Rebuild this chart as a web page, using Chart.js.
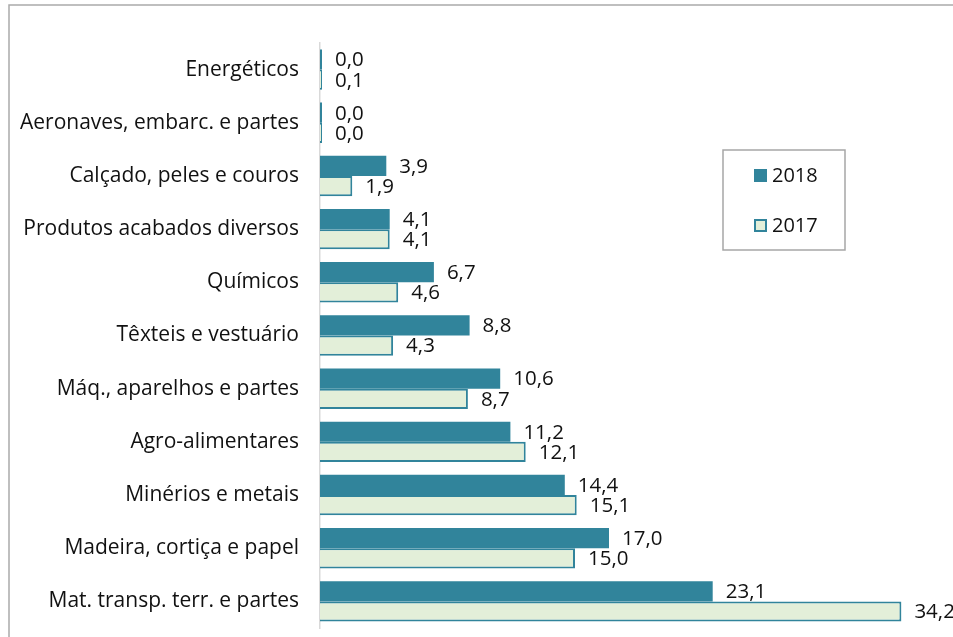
<!DOCTYPE html>
<html>
<head>
<meta charset="utf-8">
<script src="https://cdn.jsdelivr.net/npm/chart.js@4/dist/chart.umd.min.js"></script>
<style>
  html, body { margin: 0; padding: 0; background: #fff; overflow: hidden; }
  canvas { display: block; }
</style>
</head>
<body>
<canvas id="exportChart" width="953" height="637"></canvas>
<script>
const categories = [
    "Energéticos",
    "Aeronaves, embarc. e partes",
    "Calçado, peles e couros",
    "Produtos acabados diversos",
    "Químicos",
    "Têxteis e vestuário",
    "Máq., aparelhos e partes",
    "Agro-alimentares",
    "Minérios e metais",
    "Madeira, cortiça e papel",
    "Mat. transp. terr. e partes"
];
const values2018 = [0.0, 0.0, 3.9, 4.1, 6.7, 8.8, 10.6, 11.2, 14.4, 17.0, 23.1];
const values2017 = [0.1, 0.0, 1.9, 4.1, 4.6, 4.3, 8.7, 12.1, 15.1, 15.0, 34.2];
const seriesNames = ["2018", "2017"];

const FONT = "'Open Sans', sans-serif";

function fmt(v) {
    return v.toFixed(1).replace('.', ',');
}

// frame + value labels + legend box
const extras = {
    id: 'extras',
    afterDraw(chart) {
        const ctx = chart.ctx;
        ctx.save();

        // outer frame (cut by the picture edge)
        ctx.strokeStyle = '#ABABAB';
        ctx.lineWidth = 1.5;
        ctx.strokeRect(9, 5, 1200, 1200);

        // value labels
        ctx.font = '20.5px ' + FONT;
        ctx.fillStyle = '#111';
        ctx.textAlign = 'left';
        ctx.textBaseline = 'middle';
        chart.data.datasets.forEach((ds, i) => {
            chart.getDatasetMeta(i).data.forEach((bar, j) => {
                ctx.fillText(fmt(ds.data[j]), bar.x + 13, bar.y + 1);
            });
        });

        // legend
        ctx.font = '20px ' + FONT;
        ctx.strokeStyle = '#A6A6A6';
        ctx.lineWidth = 1.5;
        ctx.strokeRect(723, 150, 122, 100);
        const rows = [175, 225];
        chart.data.datasets.forEach((ds, i) => {
            ctx.fillStyle = ds.backgroundColor;
            ctx.fillRect(754, rows[i] - 6, 13, 13);
            if (ds.borderWidth) {
                ctx.strokeStyle = ds.borderColor;
                ctx.lineWidth = 2;
                ctx.strokeRect(755, rows[i] - 5, 11, 11);
            }
            ctx.fillStyle = '#111';
            ctx.fillText(ds.label, 772, rows[i] + 1);
        });

        ctx.restore();
    }
};

new Chart(document.getElementById('exportChart'), {
    type: 'bar',
    data: {
        labels: categories,
        datasets: [{
            label: seriesNames[0],
            data: values2018,
            backgroundColor: '#31849B',
            borderColor: '#31849B',
            borderWidth: 0,
            minBarLength: 2
        }, {
            label: seriesNames[1],
            data: values2017,
            backgroundColor: '#E3EFD9',
            borderColor: '#31849B',
            borderWidth: 2,
            borderSkipped: 'left',
            minBarLength: 2
        }]
    },
    options: {
        indexAxis: 'y',
        responsive: false,
        animation: false,
        categoryPercentage: 0.76,
        barPercentage: 1.0,
        layout: {
            padding: { left: 0, right: 21, top: 43, bottom: 9 }
        },
        plugins: {
            legend: { display: false },
            tooltip: { enabled: false }
        },
        scales: {
            x: {
                display: false,
                min: 0,
                max: 36
            },
            y: {
                grid: { display: false, drawTicks: false },
                border: { display: true, color: '#D9D9D9', width: 1.5 },
                ticks: {
                    color: '#111',
                    padding: 21,
                    font: { family: FONT, size: 21 }
                },
                afterFit(scale) {
                    scale.width = 320;
                    // no extra room above/below for the labels
                    scale.paddingTop = 0;
                    scale.paddingBottom = 0;
                }
            }
        }
    },
    plugins: [extras]
});
</script>
</body>
</html>
